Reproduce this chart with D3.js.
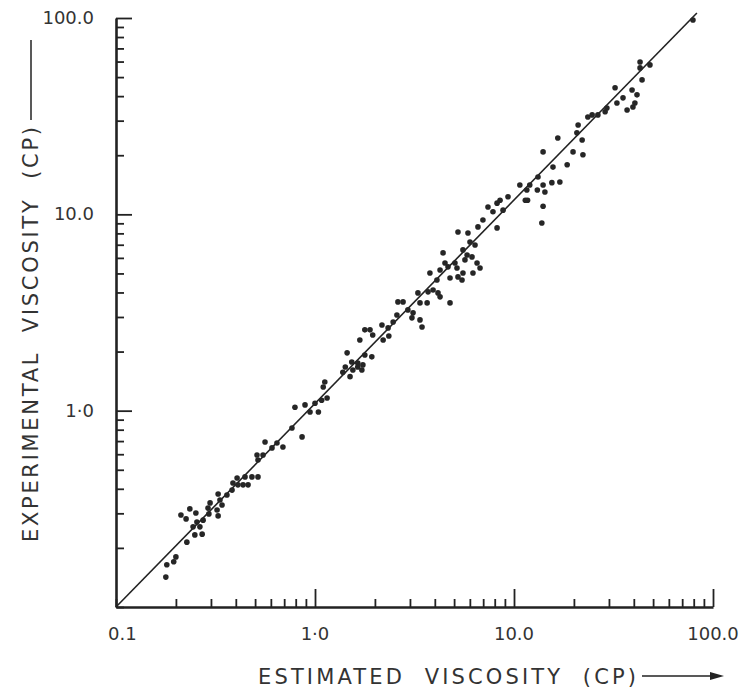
<!DOCTYPE html>
<html>
<head>
<meta charset="utf-8">
<script src="https://cdn.jsdelivr.net/npm/d3@7"></script>
<style>
  body { margin: 0; background: #fff; }
  svg { display: block; font-family: "DejaVu Sans", sans-serif; }
</style>
</head>
<body>
<svg id="chart" width="744" height="694"></svg>
<script>
// estimated viscosity (cP)
const estimated = [
  0.178, 0.180, 0.195, 0.200, 0.227, 0.249, 0.271, 0.244, 0.264, 0.212,
  0.225, 0.235, 0.252, 0.255, 0.274, 0.290, 0.293, 0.297, 0.322, 0.326,
  0.341, 0.333, 0.361, 0.383, 0.326, 0.387, 0.410, 0.406, 0.435, 0.461,
  0.445, 0.482, 0.517, 0.511, 0.548, 0.517, 0.561, 0.608, 0.644, 0.690,
  0.766, 0.861, 0.793, 0.891, 0.944, 1.00, 1.04, 1.08, 1.15, 1.10,
  1.12, 1.38, 1.42, 1.50, 1.55, 1.64, 1.78, 1.74, 1.45, 1.53,
  1.64, 1.72, 1.93, 1.68, 1.78, 1.89, 1.95, 2.17, 2.20, 2.35,
  2.33, 2.47, 2.58, 2.61, 2.77, 2.93, 3.07, 3.11, 3.37, 3.45,
  3.37, 3.29, 3.66, 3.70, 3.92, 4.15, 4.25, 4.77, 3.78, 4.10,
  4.25, 4.66, 4.77, 5.17, 5.23, 5.05, 4.40, 4.50, 5.48, 5.54,
  5.23, 5.54, 5.81, 5.67, 5.87, 6.01, 6.37, 6.15, 6.52, 6.75,
  6.22, 6.59, 6.98, 7.40, 7.84, 8.22, 8.51, 8.81, 9.33, 8.22,
  10.7, 11.6, 11.7, 12.0, 13.1, 14.0, 14.3, 14.0, 13.8, 15.5,
  17.0, 11.4, 13.2, 15.7, 18.5, 14.0, 16.6, 19.8, 22.2, 20.7,
  22.0, 21.0, 23.5, 24.7, 26.4, 28.7, 29.3, 32.9, 35.3, 37.0,
  39.6, 40.5, 41.5, 32.2, 39.2, 44.0, 43.0, 43.0, 48.2, 79.3
];

// experimental viscosity (cP), same order
const experimental = [
  0.142, 0.164, 0.170, 0.180, 0.214, 0.233, 0.235, 0.256, 0.256, 0.294,
  0.281, 0.316, 0.301, 0.271, 0.277, 0.319, 0.298, 0.339, 0.312, 0.291,
  0.331, 0.351, 0.372, 0.394, 0.376, 0.428, 0.419, 0.454, 0.419, 0.419,
  0.460, 0.460, 0.460, 0.595, 0.595, 0.561, 0.693, 0.646, 0.685, 0.653,
  0.816, 0.735, 1.04, 1.07, 0.985, 1.09, 0.985, 1.13, 1.16, 1.32,
  1.40, 1.57, 1.67, 1.49, 1.61, 1.75, 1.92, 1.71, 1.97, 1.77,
  1.67, 1.61, 1.88, 2.29, 2.58, 2.58, 2.43, 2.73, 2.29, 2.40,
  2.64, 2.83, 3.07, 3.58, 3.58, 3.26, 2.97, 3.15, 2.90, 2.67,
  3.54, 3.98, 3.54, 4.03, 4.12, 3.98, 3.80, 3.54, 5.03, 4.63,
  5.21, 5.40, 4.74, 5.33, 4.80, 5.65, 6.36, 5.65, 4.63, 5.03,
  8.13, 6.59, 6.21, 5.86, 8.04, 7.23, 6.98, 6.07, 5.65, 5.33,
  5.03, 8.63, 9.36, 10.9, 10.3, 11.4, 11.8, 10.5, 12.3, 8.53,
  14.1, 13.3, 11.8, 14.1, 13.3, 14.1, 13.0, 11.0, 9.04, 14.5,
  14.6, 11.8, 15.5, 17.4, 17.9, 20.8, 24.5, 20.8, 20.1, 26.0,
  23.9, 28.5, 31.3, 32.1, 32.1, 33.3, 34.8, 36.9, 39.2, 34.0,
  35.2, 36.9, 40.6, 44.1, 43.0, 48.4, 59.7, 55.7, 57.7, 97.7
];

// the drawn 45-degree line, end points
const lineX = [0.1, 83];
const lineY = [0.1, 106];

const majorTicks = [0.1, 1, 10, 100];
const xTickLabels = ["0.1", "1·0", "10.0", "100.0"];
const yTickLabels = ["", "1·0", "10.0", "100.0"];
const xTitle = "ESTIMATED  VISCOSITY  (CP)";
const yTitle = "EXPERIMENTAL  VISCOSITY  (CP)";

const svg = d3.select("#chart");
const ink = "#222";

const x = d3.scaleLog().domain([0.1, 100]).range([116, 713]);
const y = d3.scaleLog().domain([0.1, 100]).range([607, 18]);

// all decade sub-ticks 0.1 .. 100
const allTicks = [];
for (let d = 0.1; d < 100; d *= 10) {
  for (let k = 1; k < 10; k++) allTicks.push(+(d * k).toPrecision(2));
}
allTicks.push(100);
const isMajor = (v) => majorTicks.some((m) => Math.abs(m - v) < 1e-9);

// bottom axis, ticks pointing up into the plot
const xAxisG = svg
  .append("g")
  .attr("transform", `translate(0,${y(0.1)})`)
  .call(d3.axisTop(x).tickValues(allTicks).tickFormat("").tickSizeOuter(0));
xAxisG.select(".domain").attr("stroke", ink).attr("stroke-width", 2.6);
xAxisG
  .selectAll(".tick line")
  .attr("stroke", ink)
  .attr("stroke-width", 1.8)
  .attr("y2", (d) => (isMajor(d) && d > 0.1 ? -18 : -8));

// left axis, ticks pointing right into the plot
const yAxisG = svg
  .append("g")
  .attr("transform", `translate(${x(0.1)},0)`)
  .call(d3.axisRight(y).tickValues(allTicks).tickFormat("").tickSizeOuter(0));
yAxisG.select(".domain").attr("stroke", ink).attr("stroke-width", 2.6);
yAxisG
  .selectAll(".tick line")
  .attr("stroke", ink)
  .attr("stroke-width", 1.8)
  .attr("x2", (d) => (isMajor(d) && d > 0.1 ? 16 : 8));

// tick labels
svg
  .append("g")
  .selectAll("text")
  .data(majorTicks)
  .join("text")
  .attr("x", (d) => x(d))
  .attr("y", 640)
  .attr("text-anchor", (d, i) => (i === 0 ? "start" : "middle"))
  .attr("dx", (d, i) => (i === 0 ? -8 : 0))
  .attr("font-size", 18)
  .attr("fill", "#333")
  .text((d, i) => xTickLabels[i]);

svg
  .append("g")
  .selectAll("text")
  .data(majorTicks)
  .join("text")
  .attr("x", 94)
  .attr("y", (d) => y(d) + 6)
  .attr("text-anchor", "end")
  .attr("font-size", 18)
  .attr("fill", "#333")
  .text((d, i) => yTickLabels[i]);

// 45 degree line
svg
  .append("line")
  .attr("x1", x(lineX[0]))
  .attr("y1", y(lineY[0]))
  .attr("x2", x(lineX[1]))
  .attr("y2", y(lineY[1]))
  .attr("stroke", ink)
  .attr("stroke-width", 1.6);

// points
svg
  .append("g")
  .selectAll("circle")
  .data(estimated)
  .join("circle")
  .attr("cx", (d) => x(d))
  .attr("cy", (d, i) => y(experimental[i]))
  .attr("r", 2.8)
  .attr("fill", "#262626");

// axis titles with arrows
svg
  .append("text")
  .attr("x", 258)
  .attr("y", 684)
  .attr("font-size", 21)
  .attr("textLength", 378)
  .attr("lengthAdjust", "spacing")
  .attr("fill", "#333")
  .style("white-space", "pre")
  .text(xTitle);
svg
  .append("line")
  .attr("x1", 642)
  .attr("x2", 716)
  .attr("y1", 676)
  .attr("y2", 676)
  .attr("stroke", ink)
  .attr("stroke-width", 1.5);
svg
  .append("path")
  .attr("d", "M724,676 L710,672 L710,680 Z")
  .attr("fill", ink);

svg
  .append("text")
  .attr("transform", "translate(38,542) rotate(-90)")
  .attr("font-size", 21)
  .attr("textLength", 415)
  .attr("lengthAdjust", "spacing")
  .attr("fill", "#333")
  .style("white-space", "pre")
  .text(yTitle);
svg
  .append("line")
  .attr("x1", 31)
  .attr("x2", 31)
  .attr("y1", 120)
  .attr("y2", 40)
  .attr("stroke", ink)
  .attr("stroke-width", 1.5);
</script>
</body>
</html>
